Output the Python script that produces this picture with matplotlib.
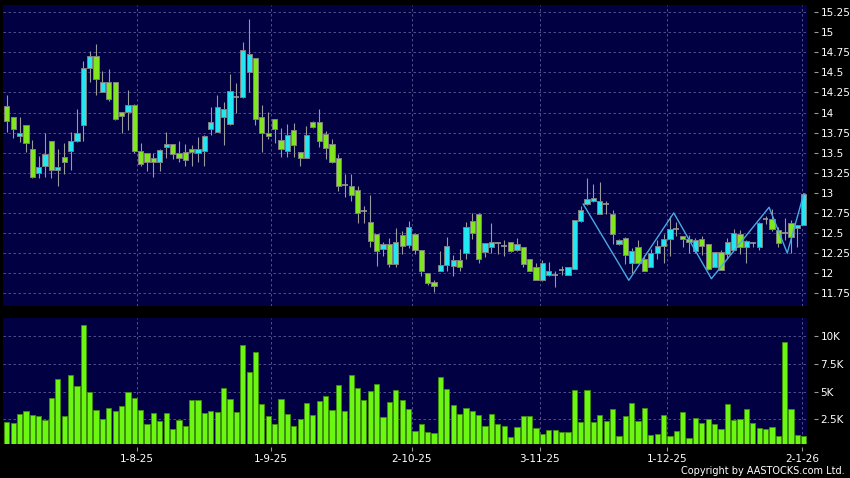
import numpy as np
import matplotlib.pyplot as plt

# daily candles, oldest first
opens = [14.08, 13.94, 13.71, 13.84, 13.54, 13.25, 13.34, 13.64, 13.28, 13.45,
         13.52, 13.64, 13.85, 14.56, 14.70, 14.26, 14.38, 14.38, 14.01, 14.01,
         14.10, 13.52, 13.49, 13.44, 13.38, 13.57, 13.61, 13.49, 13.51, 13.55,
         13.49, 13.52, 13.80, 13.76, 13.94, 13.86, 14.19, 14.19, 14.50, 14.68,
         13.95, 13.74, 13.92, 13.66, 13.52, 13.78, 13.51, 13.44, 13.88, 13.88,
         13.73, 13.61, 13.43, 13.10, 13.09, 13.03, 12.77, 12.64, 12.49, 12.30,
         12.36, 12.11, 12.47, 12.35, 12.49, 12.29, 12.00, 11.89, 12.03, 12.10,
         12.09, 12.16, 12.25, 12.65, 12.74, 12.26, 12.33, 12.38, 12.34, 12.39,
         12.29, 12.32, 12.17, 12.07, 11.92, 11.97, 11.97, 12.04, 11.97, 12.05,
         12.65, 12.86, 12.90, 12.73, 12.86, 12.74, 12.36, 12.44, 12.12, 12.33,
         12.17, 12.07, 12.25, 12.34, 12.42, 12.55, 12.46, 12.42, 12.27, 12.42,
         12.36, 12.07, 12.26, 12.24, 12.29, 12.49, 12.32, 12.38, 12.32, 12.68,
         12.68, 12.54, 12.50, 12.62, 12.56, 12.60]
highs = [14.22, 13.95, 13.94, 13.85, 13.66, 13.46, 13.75, 13.65, 13.55, 13.62,
         13.76, 14.05, 14.64, 14.77, 14.86, 14.52, 14.54, 14.38, 14.01, 14.28,
         14.11, 13.62, 13.49, 13.50, 13.54, 13.76, 13.61, 13.65, 13.61, 13.59,
         13.70, 13.72, 14.07, 14.22, 14.13, 14.48, 14.37, 14.88, 15.17, 14.68,
         14.09, 14.01, 13.92, 13.81, 13.86, 13.87, 13.51, 13.83, 13.89, 14.05,
         13.77, 13.67, 13.48, 13.24, 13.23, 13.09, 12.83, 12.97, 12.49, 12.39,
         12.44, 12.56, 12.53, 12.65, 12.50, 12.29, 12.00, 11.92, 12.28, 12.45,
         12.22, 12.30, 12.64, 12.75, 12.75, 12.38, 12.62, 12.38, 12.41, 12.39,
         12.44, 12.32, 12.18, 12.12, 12.16, 12.14, 12.02, 12.09, 12.08, 12.66,
         12.84, 13.19, 13.11, 13.14, 12.90, 12.79, 12.42, 12.45, 12.31, 12.41,
         12.23, 12.30, 12.41, 12.49, 12.71, 12.64, 12.46, 12.48, 12.44, 12.46,
         12.36, 12.26, 12.29, 12.44, 12.55, 12.54, 12.41, 12.39, 12.64, 12.71,
         12.80, 12.57, 12.69, 12.66, 12.60, 12.99]
lows = [13.76, 13.68, 13.63, 13.51, 13.18, 13.18, 13.20, 13.19, 13.08, 13.24,
        13.28, 13.63, 13.64, 14.38, 14.22, 14.25, 14.14, 13.91, 13.74, 13.78,
        13.49, 13.34, 13.27, 13.20, 13.27, 13.43, 13.42, 13.38, 13.34, 13.34,
        13.39, 13.33, 13.72, 13.76, 13.60, 13.85, 14.00, 14.18, 14.25, 13.85,
        13.51, 13.67, 13.62, 13.45, 13.45, 13.45, 13.33, 13.43, 13.81, 13.57,
        13.42, 13.37, 13.02, 12.95, 12.90, 12.62, 12.63, 12.33, 12.09, 12.21,
        12.08, 12.08, 12.24, 12.31, 12.24, 11.96, 11.85, 11.76, 12.03, 12.02,
        11.96, 12.03, 12.18, 12.43, 12.12, 12.20, 12.25, 12.24, 12.21, 12.26,
        12.27, 12.08, 12.02, 11.92, 11.90, 11.96, 11.83, 11.97, 11.97, 12.05,
        12.64, 12.85, 12.89, 12.73, 12.73, 12.36, 12.35, 12.11, 12.00, 12.12,
        12.02, 12.07, 12.17, 12.12, 12.21, 12.46, 12.32, 12.25, 12.25, 12.23,
        12.04, 12.07, 12.04, 12.17, 12.29, 12.24, 12.12, 12.32, 12.29, 12.61,
        12.52, 12.33, 12.41, 12.25, 12.32, 12.60]
closes = [13.90, 13.80, 13.75, 13.62, 13.20, 13.32, 13.48, 13.28, 13.32, 13.39,
          13.64, 13.75, 14.56, 14.70, 14.42, 14.38, 14.17, 13.92, 13.96, 14.10,
          13.52, 13.36, 13.38, 13.39, 13.53, 13.61, 13.48, 13.44, 13.41, 13.51,
          13.54, 13.71, 13.88, 14.07, 14.05, 14.27, 14.19, 14.78, 14.73, 13.92,
          13.74, 13.71, 13.79, 13.55, 13.72, 13.60, 13.44, 13.72, 13.82, 13.64,
          13.56, 13.39, 13.08, 13.10, 12.97, 12.75, 12.77, 12.40, 12.27, 12.36,
          12.11, 12.39, 12.34, 12.58, 12.29, 12.03, 11.88, 11.84, 12.10, 12.34,
          12.16, 12.07, 12.58, 12.50, 12.17, 12.37, 12.39, 12.38, 12.34, 12.27,
          12.36, 12.11, 12.03, 11.92, 12.12, 12.02, 11.97, 12.04, 12.07, 12.66,
          12.78, 12.92, 12.93, 12.90, 12.86, 12.49, 12.41, 12.22, 12.27, 12.12,
          12.03, 12.25, 12.34, 12.42, 12.55, 12.55, 12.42, 12.39, 12.41, 12.34,
          12.05, 12.26, 12.04, 12.39, 12.50, 12.32, 12.40, 12.38, 12.63, 12.68,
          12.55, 12.37, 12.50, 12.45, 12.60, 12.99]
volumes = [2280, 2140, 2980, 3250, 2860, 2830, 2470, 4450, 6170, 2800,
           6470, 5480, 11010, 4960, 3310, 2500, 3520, 3280, 3700, 4990,
           4420, 3310, 2050, 3100, 2380, 3070, 1600, 2410, 1900, 4240,
           4240, 3100, 3250, 3160, 5300, 4300, 3200, 9200, 6740, 8550,
           3850, 2800, 2100, 4330, 3010, 1870, 2530, 3970, 2860, 4180,
           4570, 3340, 5570, 3280, 6500, 5300, 4270, 5050, 5710, 2710,
           4030, 5170, 4240, 3400, 1470, 2050,
           1350, 1260, 6320, 5230, 3820, 2950, 3520, 3220, 2920, 1920,
           3010, 2100, 1920, 930, 1780, 2800, 2800, 1690, 1150, 1530,
           1530, 1350, 1350, 5120, 2280, 5170, 2230, 2860, 2320, 3430,
           1020, 2800, 3940, 2380, 3490, 1110, 1170, 2860, 990, 1470,
           3160, 810, 2620, 2140, 2500, 2050, 1650, 3880, 2440, 2500,
           3460, 2200, 1740, 1600, 1780, 990, 9480, 3430, 1080, 1020]

# zigzag overlay (position in bars, price)
zig_x = [90.4, 97.55, 104.6, 110.5, 119.55, 122.4, 125]
zig_y = [12.86, 11.91, 12.75, 11.93, 12.82, 12.25, 12.99]

date_labels = ['1-8-25', '1-9-25', '2-10-25', '3-11-25', '1-12-25', '2-1-26']
date_pos = [20.4, 41.4, 63.5, 83.6, 103.6, 124.7]

price_ticks = np.arange(11.75, 15.26, 0.25)
vol_ticks = [2500, 5000, 7500, 10000]
vol_labels = ['2.5K', '5K', '7.5K', '10K']

BG = '#000042'
GRID = '#5c5c94'
UP = '#22e6f2'
DOWN = '#80e61e'
EDGE = '#808080'

o = np.array(opens)
h = np.array(highs)
l = np.array(lows)
c = np.array(closes)
x = np.arange(len(o))

fig = plt.figure(figsize=(8.5, 4.78), dpi=100, facecolor='black')
ax1 = fig.add_axes([3/850, 172/478, 803.7/850, 301/478])
ax2 = fig.add_axes([3/850, 34/478, 803.7/850, 126/478])

for ax in (ax1, ax2):
    ax.set_facecolor(BG)
    for s in ax.spines.values():
        s.set_visible(False)
    ax.set_xlim(-0.6, 125.45)
    ax.set_xticks(date_pos)
    ax.grid(True, color=GRID, linestyle=(0, (3, 3)), linewidth=0.6)
    ax.set_axisbelow(True)
    ax.yaxis.tick_right()
    ax.spines['right'].set_position(('outward', 5))
    ax.tick_params(axis='y', colors='#9a9a9a', labelcolor='white', length=3,
                   width=0.8, pad=2, labelsize=7.5)

# candles
ax1.vlines(x, l, h, color='#9a9a9a', linewidth=0.8, zorder=2)
up = c > o
down = c < o
flat = c == o
ax1.bar(x[up], (c - o)[up], bottom=o[up], width=0.82, color=UP,
        edgecolor=EDGE, linewidth=0.7, zorder=3)
ax1.bar(x[down], (o - c)[down], bottom=c[down], width=0.82, color=DOWN,
        edgecolor=EDGE, linewidth=0.7, zorder=3)
ax1.hlines(c[flat], x[flat] - 0.45, x[flat] + 0.45, color='#9a9a9a',
           linewidth=1.2, zorder=3)
ax1.plot(zig_x, zig_y, color='#4aa8e4', linewidth=1.0, zorder=4)

ax1.set_ylim(11.59, 15.34)
ax1.set_yticks(price_ticks)
ax1.set_yticklabels(['{:g}'.format(round(v, 2)) for v in price_ticks])
ax1.tick_params(axis='x', length=0, labelbottom=False)

# volume
ax2.bar(x, volumes, width=0.82, color='#6cf712', edgecolor='#3f8f0a',
        linewidth=0.6, zorder=3)
ax2.set_ylim(280, 11620)
ax2.set_yticks(vol_ticks)
ax2.set_yticklabels(vol_labels)
ax2.set_xticklabels(date_labels)
ax2.spines['bottom'].set_position(('outward', 2))
ax2.tick_params(axis='x', colors='#9a9a9a', labelcolor='white', length=3,
                width=0.8, pad=2, labelsize=7.5)

fig.text(845/850, 1 - 471/478, 'Copyright by AASTOCKS.com Ltd.', color='white',
         fontsize=7, ha='right', va='center')

fig.savefig('out.png', dpi=100, facecolor='black')
